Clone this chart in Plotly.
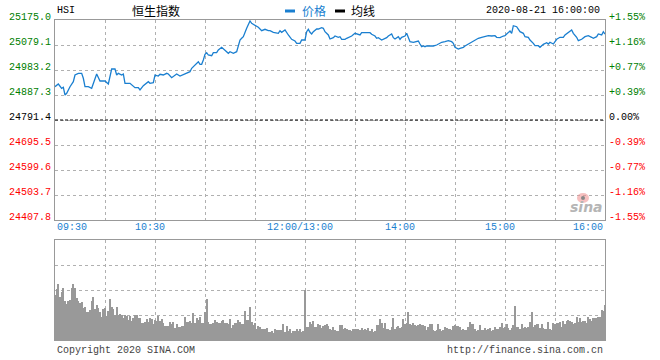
import plotly.graph_objects as go

# ---------------- data ----------------
title_code = "HSI"
title_name = "恒生指数"
legend_names = ["价格", "均线"]
timestamp = "2020-08-21 16:00:00"
prev_close = 24791.4
price_levels = [25175.0, 25079.1, 24983.2, 24887.3, 24791.4, 24695.5, 24599.6, 24503.7, 24407.8]
time_tick_min = [0, 60, 150, 210, 270, 330]
time_tick_text = ["09:30", "10:30", "12:00/13:00", "14:00", "15:00", "16:00"]

# trading minutes since 09:30 (lunch break removed)
trade_min = [0, 2, 4, 5, 6, 7, 9, 11, 12, 14, 16, 17, 18, 20, 22, 23, 24, 25, 27, 29,
             30, 32, 33, 34, 36, 37, 38, 40, 41, 42, 45, 46, 48, 50, 51, 53, 54, 56, 57, 59,
             60, 62, 63, 65, 67, 68, 70, 72, 73, 75, 77, 79, 81, 82, 84, 86, 87, 88, 89, 90,
             91, 92, 94, 95, 97, 98, 100, 102, 104, 105, 107, 109, 110, 111, 112, 113, 115, 116, 117, 118,
             120, 121, 122, 124, 125, 126, 128, 129, 131, 132, 134, 135, 136, 138, 139, 140, 142, 143, 144, 145,
             147, 148, 150, 151, 152, 153, 154, 155, 157, 158, 160, 161, 162, 164, 165, 167, 168, 170, 171, 172,
             174, 175, 177, 178, 180, 181, 183, 184, 187, 189, 190, 192, 193, 194, 196, 197, 199, 200, 202, 203,
             204, 206, 207, 208, 210, 211, 212, 213, 215, 217, 218, 219, 220, 221, 222, 223, 225, 227, 229, 231,
             232, 234, 236, 238, 239, 240, 242, 243, 245, 246, 248, 250, 252, 254, 256, 258, 260, 262, 264, 265,
             267, 269, 270, 271, 273, 274, 275, 277, 278, 279, 281, 282, 284, 285, 287, 288, 290, 291, 293, 295,
             296, 297, 299, 300, 301, 303, 305, 306, 308, 310, 311, 313, 314, 316, 318, 320, 322, 323, 325, 326,
             328, 329, 330]
price = [24919.1, 24929.5, 24913.0, 24916.8, 24887.3, 24893.8, 24919.1, 24938.3, 24964.0, 24970.5,
         24970.5, 24951.4, 24919.1, 24919.1, 24913.0, 24932.2, 24951.4, 24967.9, 24941.0, 24942.2,
         24941.0, 24929.5, 24964.0, 24987.0, 24987.0, 24964.0, 24970.5, 24964.0, 24967.9, 24932.2,
         24932.2, 24925.7, 24915.3, 24915.3, 24906.5, 24923.0, 24928.3, 24938.3, 24932.2, 24934.5,
         24964.0, 24960.2, 24966.7, 24964.0, 24970.5, 24967.9, 24953.7, 24964.0, 24967.9, 24960.2,
         24966.7, 24970.5, 24976.7, 24989.7, 25002.4, 25015.0, 25005.1, 25005.1, 25021.6, 25043.4,
         25049.6, 25040.7, 25038.1, 25049.6, 25049.6, 25059.9, 25070.3, 25059.9, 25047.3, 25053.4,
         25047.3, 25053.4, 25079.1, 25098.3, 25104.8, 25110.9, 25143.2, 25158.5, 25171.2, 25162.3,
         25155.8, 25153.1, 25147.0, 25134.0, 25136.6, 25139.3, 25134.0, 25134.0, 25127.8, 25126.3,
         25124.0, 25134.0, 25127.8, 25136.6, 25124.0, 25117.5, 25101.0, 25098.3, 25094.4, 25085.6,
         25085.6, 25098.3, 25098.3, 25130.1, 25139.3, 25127.8, 25121.3, 25130.1, 25140.5, 25140.5,
         25145.5, 25143.2, 25130.1, 25117.5, 25102.1, 25107.1, 25113.6, 25108.6, 25110.9, 25101.0,
         25101.0, 25104.8, 25110.9, 25113.6, 25124.0, 25121.3, 25117.5, 25126.3, 25126.3, 25126.3,
         25120.1, 25113.6, 25104.8, 25107.1, 25098.3, 25101.0, 25107.1, 25113.6, 25121.3, 25107.1,
         25102.1, 25110.9, 25101.0, 25108.6, 25113.6, 25124.0, 25107.1, 25091.8, 25089.5, 25091.8,
         25094.4, 25082.9, 25072.6, 25075.3, 25072.6, 25075.3, 25075.3, 25075.3, 25079.1, 25085.6,
         25089.5, 25091.8, 25095.6, 25091.8, 25085.6, 25070.3, 25063.8, 25066.4, 25070.3, 25075.3,
         25082.9, 25089.5, 25098.3, 25104.8, 25108.6, 25110.9, 25114.8, 25113.6, 25114.8, 25108.6,
         25107.1, 25113.6, 25114.8, 25121.3, 25132.8, 25124.0, 25153.1, 25149.3, 25136.6, 25130.1,
         25124.0, 25110.9, 25108.6, 25098.3, 25085.6, 25076.4, 25076.4, 25070.3, 25081.8, 25087.9,
         25082.9, 25089.5, 25082.9, 25091.8, 25101.0, 25108.6, 25108.6, 25117.5, 25126.3, 25136.6,
         25124.0, 25108.6, 25095.6, 25101.0, 25110.9, 25114.8, 25108.6, 25104.8, 25110.9, 25121.3,
         25117.5, 25130.1, 25121.3]

# per-minute volume (relative units), one bar per trading minute 0..330
volume = [45,
          51, 56, 43.3, 48.3, 51.7, 39.3, 36, 39.3, 40, 51.7,
          56, 51.7, 42.3, 39, 36.7, 37.7, 31.7, 33.3, 27.7, 28.3,
          30, 39, 43.3, 31, 35, 31.7, 28.3, 22.7, 31, 31.7,
          24.3, 29, 41, 33.3, 30.7, 25, 32.7, 25, 26, 25,
          22.3, 25, 24.3, 20, 24.3, 19, 21.7, 25, 25, 21.7,
          21.7, 16.7, 16.7, 18.3, 21, 18.3, 21.7, 21, 15.7, 20,
          19.3, 24.3, 19, 21, 16.7, 14.3, 14.3, 14.3, 18.3, 15.7,
          18.3, 12.3, 15.7, 13.3, 13.3, 14, 14.3, 23.3, 18.3, 18.3,
          19.3, 16.7, 26.7, 17.3, 21.7, 20, 22.7, 16.7, 16.7, 27.7,
          41, 18.3, 16, 16, 16.7, 20, 18.3, 17.3, 17.3, 19,
          20, 17.3, 16.7, 16, 21, 12.3, 15, 17.3, 16.7,
          20, 18.3, 16, 16, 29, 20, 20, 32.7, 17.7, 15,
          17.3, 11, 14, 12.7, 11, 11, 11, 11.7, 8.3, 7.7,
          9, 7.3, 11, 10, 10, 10, 10, 16, 7.7, 14,
          9, 11, 7.3, 9, 9, 11, 9, 11, 7.7, 9,
          50, 13.3, 13.3, 17.7, 16, 19, 13.3, 13.3, 16, 15,
          12.3, 14.3, 15, 16, 14.3, 11, 10, 13.3, 10, 9,
          9, 15, 15, 11, 11.7, 11, 10, 10, 9, 11,
          11, 11, 11, 10, 12.3, 10, 11, 10, 12.3, 9,
          11, 8.3, 9, 15, 15, 21, 17.3, 11.7, 17.3, 11,
          11, 10, 13.3, 22.3, 11, 13.3, 14.3, 12.3, 13.3, 21,
          16, 17.3, 27.7, 16, 15, 17.3, 15, 14, 15, 16,
          15, 15, 14, 10, 13.3, 15.7, 16, 10, 9, 10,
          16, 11, 9, 10, 12.7, 11.7, 10.7, 10.7, 10, 14,
          15, 14, 14, 12.7, 10, 10.7, 10, 10, 12.7, 17.7,
          16, 16, 11, 9.3, 10, 15, 10, 10, 11.7, 10,
          10.7, 12.3, 9, 10, 13.3, 10.7, 10.7, 12.7, 17.3, 12.3,
          12.7, 16, 11.7, 10, 11.7, 15, 34, 12.7, 12.7, 10.7,
          15.7, 11.7, 12.7, 12.3, 12.7, 17.7, 27.7, 13.3, 15, 16,
          16, 11.7, 16, 11.7, 11, 10.7, 17.7, 11, 10, 17.3,
          16, 16.7, 16.7, 18.3, 13.3, 19, 16, 19, 20, 19,
          18.3, 16, 17.3, 22.7, 18.3, 21.7, 18.3, 19, 19, 16.7,
          22.7, 21, 19, 21.7, 21.7, 21.7, 22.7, 22.7, 30, 29,
          35]
vol_max = 100

# ---------------- styling ----------------
W, H = 660, 360
ML, MR, MT, MB = 55, 55, 20, 20
PW, PH = W - ML - MR, H - MT - MB
MONO = "Liberation Mono, DejaVu Sans Mono, monospace"
CJK = "Noto Sans CJK SC"
BLUE = "#1a7fd0"
GREEN = "#008000"
RED = "#ff0000"
GRID = "#b0b0b0"
FRAME = "#999999"


def px_x(p):
    return (p - ML) / PW


def px_y(p):
    return (H - MB - p) / PH


main_dom = [px_y(220), px_y(20)]
vol_dom = [px_y(340), px_y(240)]

fig = go.Figure()
fig.add_trace(go.Scatter(x=trade_min, y=price, mode="lines",
                         line=dict(color=BLUE, width=1.3), xaxis="x", yaxis="y",
                         showlegend=False, hoverinfo="skip"))
fig.add_trace(go.Bar(x=list(range(len(volume))), y=volume, width=0.55,
                     marker=dict(color="#999999", line=dict(width=0)),
                     xaxis="x2", yaxis="y2", showlegend=False, hoverinfo="skip"))

grid_min = list(range(0, 331, 30))
common_x = dict(range=[0, 330], tickvals=grid_min, showticklabels=False, ticks="",
                showgrid=True, gridcolor=GRID, griddash="dot", gridwidth=1,
                showline=True, mirror=True, linecolor=FRAME, linewidth=1, zeroline=False,
                fixedrange=True)
fig.update_layout(
    width=W, height=H,
    margin=dict(l=ML, r=MR, t=MT, b=MB),
    paper_bgcolor="white", plot_bgcolor="white",
    xaxis=dict(domain=[0, 1], anchor="y", **common_x),
    xaxis2=dict(domain=[0, 1], anchor="y2", **common_x),
    yaxis=dict(domain=main_dom, range=[price_levels[-1], price_levels[0]], tickvals=price_levels,
               showticklabels=False, ticks="", showgrid=True, gridcolor=GRID, griddash="dot",
               showline=True, mirror=True, linecolor=FRAME, linewidth=1, zeroline=False),
    yaxis2=dict(domain=vol_dom, range=[0, vol_max], tickvals=[0, 25, 50, 75, 100],
                showticklabels=False, ticks="", showgrid=True, gridcolor=GRID, griddash="dot",
                showline=True, mirror=True, linecolor=FRAME, linewidth=1, zeroline=False),
    bargap=0,
    showlegend=False,
)

# previous close dashed line
fig.add_shape(type="line", xref="x", yref="y", x0=0, x1=330, y0=prev_close, y1=prev_close,
              line=dict(color="black", width=1, dash="3px,2px"))

ann = []
# y labels
for v in price_levels:
    col = GREEN if v > prev_close else (RED if v < prev_close else "black")
    pct = (v - prev_close) / prev_close * 100
    ptxt = ("+" if pct > 0.0001 else "") + f"{pct:.2f}%"
    ann.append(dict(x=0, xref="paper", y=v, yref="y", text=f"{v:.1f}", xanchor="right",
                    yanchor="middle", xshift=-2, yshift=3, showarrow=False,
                    font=dict(family=MONO, size=10, color=col)))
    ann.append(dict(x=1, xref="paper", y=v, yref="y", text=ptxt, xanchor="left",
                    yanchor="middle", xshift=2, yshift=3, showarrow=False,
                    font=dict(family=MONO, size=10, color=col)))
# x labels
for i, (m, t) in enumerate(zip(time_tick_min, time_tick_text)):
    if i == 0:
        xa, xs = "left", 0
    elif i == len(time_tick_min) - 1:
        xa, xs = "right", 0
    else:
        xa, xs = "center", -5
    ann.append(dict(x=m, xref="x", y=px_y(227), yref="paper", text=t, xanchor=xa,
                    yanchor="middle", xshift=xs, showarrow=False,
                    font=dict(family=MONO, size=10, color=BLUE)))
# header
ann.append(dict(x=0, xref="paper", y=px_y(10), yref="paper", text=title_code, xanchor="left",
                yanchor="middle", showarrow=False, font=dict(family=MONO, size=10, color="black")))
ann.append(dict(x=px_x(130), xref="paper", y=px_y(10), yref="paper", text=title_name, xanchor="left",
                yanchor="middle", showarrow=False, font=dict(family=CJK, size=12, color="black")))
ann.append(dict(x=px_x(300), xref="paper", y=px_y(10), yref="paper", text=legend_names[0],
                xanchor="left", yanchor="middle", showarrow=False,
                font=dict(family=CJK, size=12, color=BLUE)))
ann.append(dict(x=px_x(349), xref="paper", y=px_y(10), yref="paper", text=legend_names[1],
                xanchor="left", yanchor="middle", showarrow=False,
                font=dict(family=CJK, size=12, color="black")))
ann.append(dict(x=px_x(602), xref="paper", y=px_y(10), yref="paper", text=timestamp,
                xanchor="right", yanchor="middle", showarrow=False,
                font=dict(family=MONO, size=10, color="black")))
# footer
ann.append(dict(x=0, xref="paper", y=px_y(350), yref="paper", text="Copyright 2020 SINA.COM",
                xanchor="left", yanchor="middle", showarrow=False,
                font=dict(family=MONO, size=10, color="#444444")))
ann.append(dict(x=1, xref="paper", y=px_y(350), yref="paper", text="http://finance.sina.com.cn",
                xanchor="right", yanchor="middle", showarrow=False,
                font=dict(family=MONO, size=10, color="#444444")))
# watermark
ann.append(dict(x=px_x(586), xref="paper", y=px_y(207), yref="paper", text="<b><i>sina</i></b>",
                xanchor="center", yanchor="middle", showarrow=False,
                font=dict(family="DejaVu Sans", size=14, color="#b5b5b5")))
fig.update_layout(annotations=ann)

# legend dashes
fig.add_shape(type="rect", xref="paper", yref="paper", x0=px_x(285), x1=px_x(295),
              y0=px_y(12.5), y1=px_y(9.5), fillcolor=BLUE, line=dict(width=0))
fig.add_shape(type="rect", xref="paper", yref="paper", x0=px_x(335), x1=px_x(345),
              y0=px_y(12.5), y1=px_y(9.5), fillcolor="black", line=dict(width=0))
# watermark eye
fig.add_shape(type="circle", xref="paper", yref="paper", x0=px_x(577), x1=px_x(589),
              y0=px_y(203), y1=px_y(193), fillcolor="rgba(240,150,150,0.6)", line=dict(width=0))
fig.add_shape(type="circle", xref="paper", yref="paper", x0=px_x(581), x1=px_x(585),
              y0=px_y(200), y1=px_y(196), fillcolor="#888888", line=dict(width=0))

fig.write_html("out.html", config={"displayModeBar": False},
               post_script="document.body.style.margin='0';document.body.style.padding='0';")
